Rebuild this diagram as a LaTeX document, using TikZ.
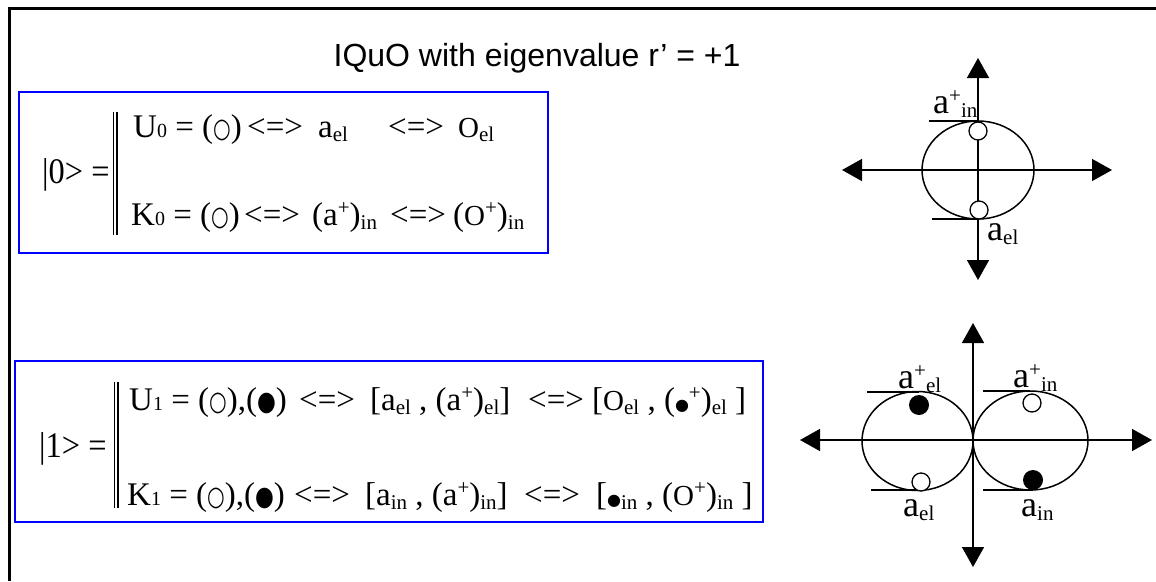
\documentclass[tikz,border=0pt]{standalone}
\usepackage{fontspec}
\setmainfont{Liberation Serif}
\newfontfamily\ttlfont{Liberation Sans}
\newfontfamily\symfont{DejaVu Sans}
\usetikzlibrary{arrows.meta}

\newcommand{\wdot}{\scalebox{0.75}[1]{\symfont\fontsize{27}{27}\selectfont ○}}
\newcommand{\bdot}{\scalebox{0.8}[1]{\symfont\fontsize{27}{27}\selectfont ●}}
\newcommand{\sbdot}{{\symfont\fontsize{16}{16}\selectfont ●}}
\newcommand{\subs}[1]{\raisebox{-4pt}{\fontsize{21}{21}\selectfont #1}}
\newcommand{\sups}[1]{\raisebox{11pt}{\fontsize{21}{21}\selectfont #1}}
\newcommand{\idx}[1]{{\fontsize{20}{20}\selectfont #1}}
\newcommand{\bigO}{{\fontsize{29}{29}\selectfont O}}

\begin{document}
\begin{tikzpicture}[x=1pt,y=-1pt,
  txt/.style={anchor=base west,inner sep=0pt,font=\fontsize{33}{36}\selectfont},
  ket/.style={anchor=base west,inner sep=0pt,font=\fontsize{36}{40}\selectfont},
  lbl/.style={anchor=base west,inner sep=0pt,font=\fontsize{36}{40}\selectfont},
  frame/.style={blue,line width=2pt},
  axis/.style={line width=1.5pt,{Triangle[length=20pt,width=22pt]}-{Triangle[length=20pt,width=22pt]}},
  dot/.style={circle,draw,line width=1.3pt,fill=white,minimum size=18pt,inner sep=0pt},
  fdot/.style={circle,fill=black,minimum size=20pt,inner sep=0pt}]
\useasboundingbox (0,0) rectangle (1156,581);
\draw[line width=3pt] (9.5,581) -- (9.5,8.5) -- (1156,8.5);

\node[anchor=base,inner sep=0pt,font=\ttlfont\fontsize{32}{36}\selectfont] (title) at (537,66) {IQuO with eigenvalue r’ = +1};

% state |0>
\draw[frame] (19,92) rectangle (548,253);
\node[ket] (s0) at (42,183) {\scalebox{0.9}[1]{|0> =}};
\draw[line width=1.3pt] (113.5,112) -- (113.5,235) (117,112) -- (117,235);
\node[txt] (u0) at (133,137) {U\idx{0} = (\wdot)};
\node[txt] (u0e) at (247,137) {<=>};
\node[txt] (u0a) at (318,137) {a\subs{el}};
\node[txt] (u0f) at (388,137) {<=>};
\node[txt] (u0o) at (458,137) {\bigO\subs{el}};
\node[txt] (k0) at (131,225) {K\idx{0} = (\wdot)};
\node[txt] (k0e) at (244,225) {<=>};
\node[txt] (k0a) at (312,225) {(a\sups{+})\subs{in}};
\node[txt] (k0f) at (390,225) {<=>};
\node[txt] (k0o) at (453,225) {(\bigO\sups{+})\subs{in}};

% state |1>
\draw[frame] (15,361) rectangle (763,522);
\node[ket] (s1) at (39,457) {\scalebox{0.9}[1]{|1> =}};
\draw[line width=1.3pt] (114.5,382) -- (114.5,508) (118,382) -- (118,508);
\node[txt] (u1) at (129,410) {U\idx{1} = (\wdot),(\bdot)};
\node[txt] (u1e) at (299,410) {<=>};
\node[txt] (u1a) at (370,410) {[a\subs{el} , (a\sups{+})\subs{el}]};
\node[txt] (u1f) at (528,410) {<=>};
\node[txt] (u1o) at (592,410) {[\bigO\subs{el} , (\sbdot\sups{+})\subs{el} ]};
\node[txt] (k1) at (127,505) {K\idx{1} = (\wdot),(\bdot)};
\node[txt] (k1e) at (294,505) {<=>};
\node[txt] (k1a) at (365,505) {[a\subs{in} , (a\sups{+})\subs{in}]};
\node[txt] (k1f) at (524,505) {<=>};
\node[txt] (k1o) at (596,505) {[\sbdot\subs{in} , (\bigO\sups{+})\subs{in} ]};

% diagram for |0>
\coordinate (n1) at (978,58);
\coordinate (s1) at (978,280);
\coordinate (w1) at (842,170);
\coordinate (e1) at (1112,170);
\draw[axis] (w1) -- (e1);
\draw[axis] (n1) -- (s1);
\draw[line width=1.5pt] (978,170) ellipse (56pt and 49pt);
\draw[line width=1.5pt] (929,121) -- (978,121) (932,219) -- (978,219);
\node[dot] (d1) at (978,131) {};
\node[dot] (d2) at (979,210) {};
\node[lbl] (l1) at (933,113) {a\sups{+}\subs{in}};
\node[lbl] (l2) at (987,240) {a\subs{el}};

% diagram for |1>
\coordinate (n2) at (973,323);
\coordinate (s2) at (973,567);
\coordinate (w2) at (800,440);
\coordinate (e2) at (1152,440);
\draw[axis] (w2) -- (e2);
\draw[axis] (n2) -- (s2);
\draw[line width=1.5pt] (917.5,441) ellipse (55.5pt and 49.5pt);
\draw[line width=1.5pt] (1030.5,440.5) ellipse (57.5pt and 49.5pt);
\draw[line width=1.5pt] (867,392) -- (919,392) (871,490) -- (921,490);
\draw[line width=1.5pt] (983,391) -- (1030,391) (983,490) -- (1033,490);
\node[fdot] (d3) at (919,405) {};
\node[dot] (d4) at (921,482) {};
\node[dot] (d5) at (1032,403) {};
\node[fdot] (d6) at (1033,480) {};
\node[lbl] (l3) at (898,388) {a\sups{+}\subs{el}};
\node[lbl] (l4) at (1013,387) {a\sups{+}\subs{in}};
\node[lbl] (l5) at (903,516) {a\subs{el}};
\node[lbl] (l6) at (1021,516) {a\subs{in}};
\end{tikzpicture}
\end{document}
